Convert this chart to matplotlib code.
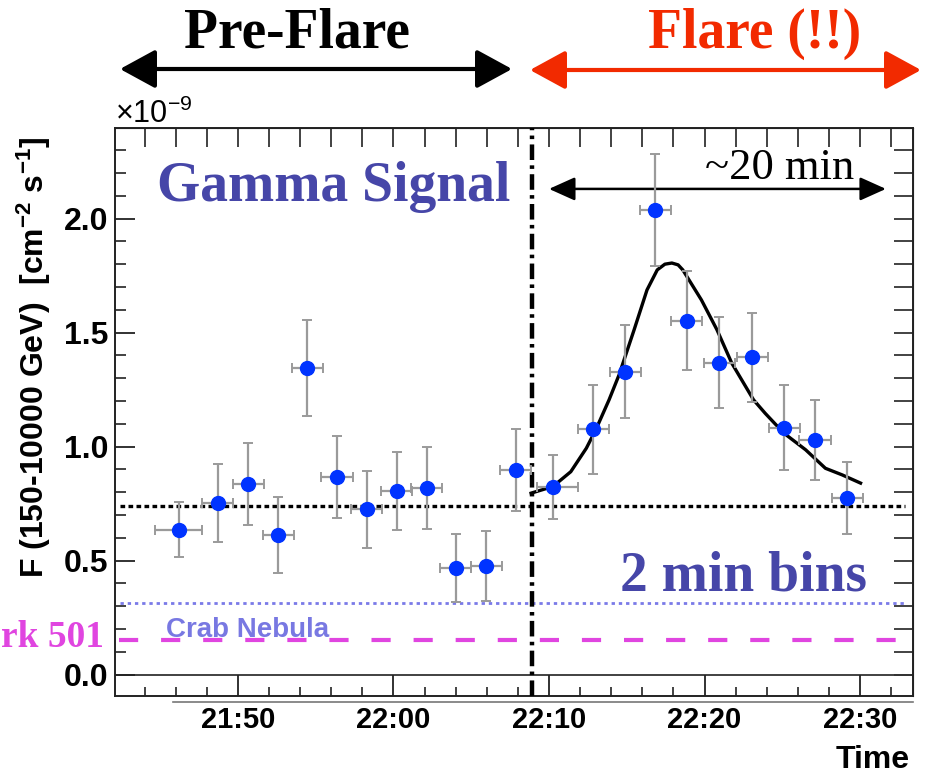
import numpy as np
import matplotlib
matplotlib.use("Agg")
import matplotlib.pyplot as plt
from matplotlib.patches import FancyArrowPatch
from matplotlib.ticker import MultipleLocator, FuncFormatter

plt.rcParams["font.family"] = ["Liberation Sans", "DejaVu Sans"]
plt.rcParams["mathtext.default"] = "regular"

# minutes after 21:00
time_min = [46.2, 48.7, 50.66, 52.6, 54.47, 56.37, 58.27, 60.22, 62.15, 64.0, 65.96,
            67.86, 70.25, 72.85, 74.9, 76.83, 78.86, 80.94, 83.07, 85.12, 87.1, 89.17]
time_err_lo = [1.5, 1.0, 1.0, 1.0, 1.0, 1.0, 1.0, 1.0, 1.0, 1.0, 1.0,
               1.0, 1.0, 1.0, 1.0, 1.0, 1.0, 1.0, 1.0, 1.0, 1.0, 1.0]
time_err_hi = [1.5, 1.0, 1.0, 1.0, 1.0, 1.0, 1.0, 1.0, 1.0, 1.0, 1.0,
               1.0, 1.6, 1.0, 1.0, 1.0, 1.0, 1.0, 1.0, 1.0, 1.0, 1.0]
flux = [0.635, 0.752, 0.836, 0.613, 1.344, 0.867, 0.725, 0.806, 0.820, 0.467, 0.477,
        0.898, 0.822, 1.076, 1.329, 2.038, 1.553, 1.368, 1.392, 1.083, 1.029, 0.776]
flux_err = [0.12, 0.17, 0.18, 0.165, 0.21, 0.18, 0.17, 0.17, 0.18, 0.15, 0.155,
            0.18, 0.14, 0.195, 0.205, 0.245, 0.215, 0.2, 0.195, 0.185, 0.175, 0.157]

# fitted flare profile
fit_time = [68.85, 70.25, 71.4, 72.4, 73.0, 73.86, 74.5, 75.47, 76.3, 76.96, 77.45, 77.9,
            78.3, 78.6, 79.8, 80.8, 81.75, 83.15, 83.9, 85.1, 86.5, 87.77, 88.85, 90.03]
fit_flux = [0.796, 0.825, 0.89, 0.993, 1.073, 1.205, 1.314, 1.512, 1.687, 1.775, 1.800, 1.805,
            1.797, 1.775, 1.643, 1.512, 1.366, 1.205, 1.146, 1.059, 0.986, 0.905, 0.876, 0.84]

baseline_flux = 0.74
crab_flux = 0.316
mrk501_flux = 0.152
flare_start = 68.9

xticks = [50, 60, 70, 80, 90]
xtick_labels = ["21:50", "22:00", "22:10", "22:20", "22:30"]

fig = plt.figure(figsize=(9.3, 7.74), dpi=100)
ax = fig.add_axes([0.1237, 0.1008, 0.858, 0.7338])
ax.set_xlim(42.1, 93.4)
ax.set_ylim(-0.0934, 2.397)

# reference levels
ax.axhline(0, color="#333333", lw=1.3, zorder=1)
ax.axhline(baseline_flux, xmin=0.006, xmax=0.99, color="black", lw=2.4,
           ls=(0, (1.4, 1.0)), zorder=2)
ax.axhline(crab_flux, xmin=0.006, xmax=0.99, color="#7a7ae8", lw=2.0,
           ls=(0, (1.2, 1.4)), zorder=2)
ax.axhline(mrk501_flux, xmin=0.005, xmax=0.99, color="#e045e0", lw=3.0,
           ls=(0, (4.6, 5.5)), zorder=2)
ax.axvline(flare_start, color="black", lw=3.2, ls=(0, (3.5, 1.2, 0.8, 1.2)), zorder=3)

ax.errorbar(time_min, flux, yerr=flux_err, xerr=[time_err_lo, time_err_hi],
            fmt="o", color="#0033ff", ms=10, mec="#0033ff", ecolor="#9a9a9a",
            elinewidth=1.6, capsize=3.5, capthick=1.4, zorder=5)
ax.plot(fit_time, fit_flux, color="black", lw=2.4, zorder=4)

# axis styling
for s in ax.spines.values():
    s.set_linewidth(1.4)
    s.set_color("#222222")
ax.xaxis.set_major_locator(plt.FixedLocator(xticks))
ax.xaxis.set_major_formatter(plt.FixedFormatter(xtick_labels))
ax.xaxis.set_minor_locator(MultipleLocator(2))
ax.yaxis.set_major_locator(MultipleLocator(0.5))
ax.yaxis.set_minor_locator(MultipleLocator(0.1))
ax.yaxis.set_major_formatter(FuncFormatter(lambda v, p: f"{v:.1f}"))
ax.tick_params(axis="x", which="major", direction="in", length=15, width=1.3,
               labelsize=21, pad=7, colors="#222222", labelcolor="black")
ax.tick_params(axis="x", which="minor", direction="in", length=6.5, width=1.2,
               colors="#222222")
ax.tick_params(axis="y", which="major", direction="in", length=14.5, width=1.3,
               labelsize=23, pad=5, colors="#222222", labelcolor="black")
ax.tick_params(axis="y", which="minor", direction="in", length=8, width=1.2,
               colors="#222222")
for lab in ax.get_xticklabels() + ax.get_yticklabels():
    lab.set_fontweight("bold")

top = ax.secondary_xaxis("top")
top.xaxis.set_major_locator(MultipleLocator(2))
top.tick_params(direction="in", length=14, width=1.2, labeltop=False, colors="#222222")
right = ax.secondary_yaxis("right")
right.yaxis.set_major_locator(MultipleLocator(0.1))
right.tick_params(direction="in", length=14, width=1.2, labelright=False, colors="#222222")

# separate time-axis rule below the frame
ax.plot([45.8, 93.4], [-0.0106, -0.0106], transform=ax.get_xaxis_transform(),
        color="#777777", lw=1.2, clip_on=False)

ax.set_ylabel("F (150-10000 GeV)  [cm$^{-2}$ s$^{-1}$]", fontsize=23,
              fontweight="bold")
ax.yaxis.set_label_coords(-0.078, 0.597)
ax.set_xlabel("Time", fontsize=23, fontweight="bold", ha="right", va="top")
ax.xaxis.set_label_coords(0.996, -0.086)

fig.text(0.1237, 1 - 123 / 774, "×10$^{-9}$", fontsize=22, ha="left", va="baseline")

serif = ["Liberation Serif", "DejaVu Serif"]
ax.text(44.8, 2.077, "Gamma Signal", family=serif, fontweight="bold", fontsize=40,
        color="#4646a8", ha="left", va="baseline")
ax.text(90.44, 0.371, "2 min bins", family=serif, fontweight="bold", fontsize=40,
        color="#4646a8", ha="right", va="baseline")
ax.text(45.4, 0.167, "Crab Nebula", fontsize=20, fontweight="bold", color="#7878e2",
        ha="left", va="baseline")
ax.text(89.6, 2.173, "~20 min", family=serif, fontsize=32, color="black",
        ha="right", va="baseline")
ax.annotate("", xy=(70.0, 2.13), xytext=(91.66, 2.13),
            arrowprops=dict(arrowstyle="<|-|>,head_length=1.0,head_width=0.45",
                            color="black", lw=1.8, mutation_scale=16,
                            shrinkA=0, shrinkB=0))

fig.text(1 / 930, 1 - 647 / 774, "rk 501", family=serif, fontweight="bold",
         fontsize=27, color="#e045e0", ha="left", va="baseline")

# phase headers above the plot
fig.text(297 / 930, 1 - 48 / 774, "Pre-Flare", family=serif, fontweight="bold",
         fontsize=40, color="black", ha="center", va="baseline")
fig.text(755 / 930, 1 - 48 / 774, "Flare (!!)", family=serif, fontweight="bold",
         fontsize=40, color="#f22a00", ha="center", va="baseline")
head = "<|-|>,head_length=1.1,head_width=0.6"
fig.add_artist(FancyArrowPatch(
    (120 / 930, 1 - 69 / 774), (512 / 930, 1 - 69 / 774), transform=fig.transFigure,
    arrowstyle=head, mutation_scale=20, color="black", lw=3.0, shrinkA=0, shrinkB=0))
fig.add_artist(FancyArrowPatch(
    (530 / 930, 1 - 70 / 774), (921 / 930, 1 - 70 / 774), transform=fig.transFigure,
    arrowstyle=head, mutation_scale=20, color="#f22a00", lw=3.0, shrinkA=0, shrinkB=0))

fig.savefig("out.png", dpi=100)
